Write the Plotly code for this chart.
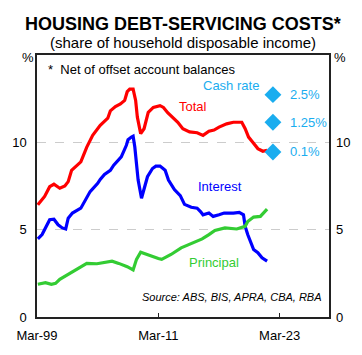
import plotly.graph_objects as go

# ---- data ----
total_dates = ["1999-03-31","1999-09-01","1999-12-01","2000-06-01","2000-11-01","2001-06-01","2001-12-01",
               "2002-04-01","2002-08-01","2003-07-01","2004-02-01","2004-09-01","2005-06-01","2006-03-01",
               "2006-06-01","2006-12-01","2007-06-01","2007-11-01","2008-02-01","2008-05-01","2008-09-01",
               "2008-12-01","2009-02-01","2009-06-01","2009-10-01","2010-03-01","2010-09-01","2011-05-01",
               "2011-09-01","2012-02-01","2012-08-01","2013-02-01","2013-08-01","2014-04-01","2015-01-01",
               "2015-08-01","2016-03-01","2016-09-01","2017-03-01","2017-12-01","2018-08-01","2019-06-01",
               "2019-10-01","2020-02-01","2020-07-01","2021-01-01","2021-07-01","2021-12-01"]
total_vals = [6.42,6.7,6.9,7.46,7.6,7.37,7.5,
              7.75,8.4,8.88,9.73,10.4,10.97,11.38,
              11.8,12.05,12.2,12.4,12.9,13.05,13.05,
              12.4,11.44,10.5,10.78,11.72,12.0,12.1,
              12.0,11.7,11.4,11.15,10.78,10.6,10.55,
              10.4,10.64,10.7,10.87,11.06,11.15,11.15,
              10.78,10.3,10.0,9.64,9.49,9.55]

interest_dates = ["1999-03-31","1999-09-01","2000-02-01","2000-06-01","2000-11-01","2001-04-01","2001-09-01",
                  "2002-01-01","2002-04-01","2002-09-01","2003-07-01","2004-01-01","2004-06-01","2005-03-01",
                  "2005-06-01","2005-11-01","2006-06-01","2006-10-01","2007-03-01","2007-07-01","2008-01-01",
                  "2008-03-01","2008-07-01","2008-09-01","2008-11-01","2009-03-01","2009-07-01","2009-10-01",
                  "2010-02-01","2010-08-01","2010-12-01","2011-05-01","2011-11-01","2012-03-01","2012-10-01",
                  "2013-05-01","2013-10-01","2014-06-01","2015-01-01","2015-05-01","2015-08-01","2016-03-01",
                  "2016-08-01","2017-03-01","2017-09-01","2018-08-01","2019-03-01","2019-08-01","2019-10-01",
                  "2020-01-01","2020-05-01","2020-08-01","2021-01-01","2021-06-01","2021-12-01"]
interest_vals = [4.47,4.72,5.19,5.57,5.6,5.28,5.1,
                 5.04,5.66,5.95,6.23,6.8,7.18,7.65,
                 7.88,8.16,8.4,8.69,8.98,9.17,9.83,
                 10.15,10.3,10.35,9.73,7.84,6.8,7.27,
                 8.03,8.5,8.64,8.64,8.4,7.84,7.3,
                 6.95,6.45,6.28,6.23,6.04,5.85,5.95,
                 5.76,5.85,5.95,5.95,5.99,5.85,5.19,
                 4.72,4.24,3.86,3.68,3.39,3.2]

principal_dates = ["1999-03-31","2000-01-01","2000-08-01","2001-01-01","2001-06-01","2002-04-01","2002-11-01",
                   "2003-07-01","2004-02-01","2005-02-01","2005-09-01","2006-08-01","2007-04-01","2008-02-01",
                   "2008-09-01","2009-01-01","2009-06-01","2010-01-01","2010-08-01","2011-03-01","2011-07-01",
                   "2012-06-01","2013-06-01","2014-06-01","2015-07-01","2016-03-01","2016-10-01","2017-10-01",
                   "2018-12-01","2019-10-01","2020-01-01","2020-08-01","2021-04-01","2021-12-01"]
principal_vals = [1.875,1.97,1.875,1.93,2.16,2.44,2.63,
                  2.88,3.07,3.05,3.1,3.2,3.07,2.88,
                  2.69,3.3,3.71,3.58,3.45,3.35,3.3,
                  3.58,3.96,4.2,4.47,4.72,4.96,5.1,
                  5.04,5.19,5.47,5.72,5.76,6.18]

cash_rate_labels = ["2.5%", "1.25%", "0.1%"]
cash_rate_vals = [12.73, 11.15, 9.45]
cash_rate_date = "2022-06-30"

x_tick_vals = ["1999-03-01", "2011-03-01", "2023-03-01"]
x_tick_text = ["Mar-99", "Mar-11", "Mar-23"]
y_tick_vals = [0, 5, 10]
y_tick_text = ["0", "5", "10"]

RED = "#FF0000"
BLUE = "#0000FF"
GREEN = "#33CC33"
CYAN = "#1AADEF"
FONT = "Arial, Liberation Sans, sans-serif"

fig = go.Figure()
fig.add_trace(go.Scatter(x=total_dates, y=total_vals, mode="lines",
                         line=dict(color=RED, width=3.2), showlegend=False, hoverinfo="skip"))
fig.add_trace(go.Scatter(x=interest_dates, y=interest_vals, mode="lines",
                         line=dict(color=BLUE, width=3.2), showlegend=False, hoverinfo="skip"))
fig.add_trace(go.Scatter(x=principal_dates, y=principal_vals, mode="lines",
                         line=dict(color=GREEN, width=3.2), showlegend=False, hoverinfo="skip"))
fig.add_trace(go.Scatter(x=[cash_rate_date] * len(cash_rate_vals), y=cash_rate_vals, mode="markers",
                         marker=dict(symbol="diamond", size=13, color=CYAN),
                         showlegend=False, hoverinfo="skip"))
# invisible trace for the right-hand axis
fig.add_trace(go.Scatter(x=[total_dates[0]], y=[0], yaxis="y2", mode="markers",
                         marker=dict(opacity=0), showlegend=False, hoverinfo="skip"))


def note(text, x, y, size=13, color="black", xanchor="left", yref="paper"):
    return dict(text=text, x=x, y=y, xref="paper", yref=yref, xanchor=xanchor, yanchor="middle",
                showarrow=False, borderpad=0, borderwidth=0,
                font=dict(size=size, color=color, family=FONT))


annotations = [
    note("<b>HOUSING DEBT-SERVICING COSTS*</b>", 0.5, 1.118, size=18, xanchor="center"),
    note("(share of household disposable income)", 0.5, 1.047, size=15, xanchor="center"),
    note("%", -0.03, 0.99, xanchor="center"),
    note("%", 1.037, 0.99, xanchor="center"),
    note("*  Net of offset account balances", 0.036, 0.943),
    note("Cash rate", 0.568, 0.882, color=CYAN),
    note("Total", 0.486, 0.802, color=RED),
    note("Interest", 0.551, 0.498, color=BLUE),
    note("Principal", 0.521, 0.209, color=GREEN),
    note("<i>Source: ABS, BIS, APRA, CBA, RBA</i>", 0.975, 0.076, size=11, xanchor="right"),
]
for lab, val in zip(cash_rate_labels, cash_rate_vals):
    annotations.append(note(lab, 0.868, val, color=CYAN, yref="y"))

axis_line = dict(showline=True, linecolor="#222222", linewidth=1.5)

fig.update_layout(
    width=362, height=355,
    margin=dict(l=35, r=29, t=55, b=37),
    paper_bgcolor="white", plot_bgcolor="white",
    font=dict(family=FONT, size=13, color="black"),
    annotations=annotations,
    xaxis=dict(type="date", range=["1999-03-01", "2028-01-15"],
               tickmode="array", tickvals=x_tick_vals, ticktext=x_tick_text,
               ticks="inside", ticklen=4, tickcolor="#222222", tickwidth=1,
               showgrid=False, zeroline=False, mirror=True, ticklabelstandoff=6,
               tickfont=dict(size=13, family=FONT, color="black"), **axis_line),
    yaxis=dict(range=[0, 15], tickmode="array", tickvals=y_tick_vals, ticktext=y_tick_text,
               ticks="", showgrid=True, gridcolor="#CCCCCC", griddash="dash", gridwidth=1,
               zeroline=False, mirror=True, ticklabelstandoff=6,
               tickfont=dict(size=13, family=FONT, color="black"), **axis_line),
    yaxis2=dict(range=[0, 15], overlaying="y", side="right", tickmode="array",
                tickvals=y_tick_vals, ticktext=y_tick_text, ticks="", showgrid=False,
                zeroline=False, showline=False, ticklabelstandoff=6,
                tickfont=dict(size=13, family=FONT, color="black")),
)

fig.write_html("out.html", config={"displayModeBar": False},
               post_script="document.body.style.margin='0';document.body.style.padding='0';")
